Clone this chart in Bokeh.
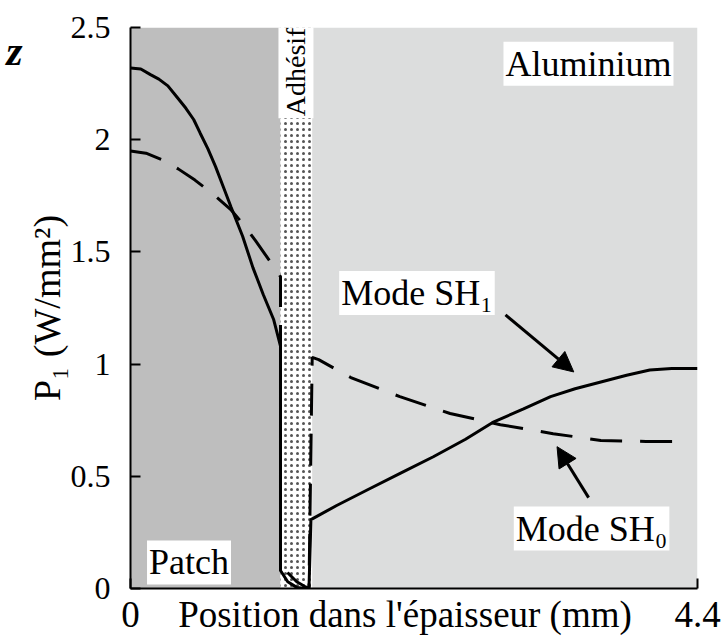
from bokeh.plotting import figure
from bokeh.models import (Range1d, FixedTicker, Label, Arrow, NormalHead, ColumnDataSource,
                          LinearAxis)
from bokeh.embed import file_html
from bokeh.resources import INLINE

# Layers of the structure (mm)
layer_names = ["Patch", "Adhésif", "Aluminium"]
layer_left = [0.0, 1.164, 1.41]
layer_right = [1.164, 1.41, 4.4]
layer_colors = ["#bebebe", "#ffffff", "#dcdddd"]

# Mode SH1 (solid)
sh1_x = [0.0, 0.08, 0.155, 0.22, 0.29, 0.36, 0.43, 0.49, 0.54, 0.6, 0.66, 0.72, 0.78,
         0.87, 0.95, 1.03, 1.11, 1.164,
         1.164, 1.22, 1.29, 1.36, 1.385, 1.40, 1.6, 1.84, 2.1, 2.35, 2.6, 2.82,
         3.05, 3.26, 3.45, 3.65, 3.85, 4.03, 4.2, 4.4]
sh1_y = [2.32, 2.315, 2.29, 2.27, 2.24, 2.19, 2.14, 2.09, 2.03, 1.96, 1.88, 1.79, 1.70,
         1.57, 1.43, 1.31, 1.20, 1.08,
         0.08, 0.03, 0.005, 0.0, 0.0, 0.307, 0.37, 0.44, 0.515, 0.587, 0.665, 0.743,
         0.80, 0.855, 0.89, 0.92, 0.95, 0.974, 0.98, 0.98]

# Mode SH0 (dashed)
sh0_x = [0.0, 0.12, 0.248, 0.37, 0.5, 0.635, 0.776, 0.88, 0.97, 1.086, 1.164,
         1.164, 1.22, 1.29, 1.35, 1.385, 1.41, 1.46, 1.71, 2.09, 2.48, 2.87,
         3.28, 3.65, 4.0, 4.3]
sh0_y = [1.95, 1.94, 1.91, 1.87, 1.82, 1.76, 1.69, 1.62, 1.55, 1.455, 1.39,
         0.11, 0.07, 0.03, 0.01, 0.0, 1.03, 1.02, 0.94, 0.855, 0.78, 0.73,
         0.69, 0.66, 0.655, 0.655]

y_ticks = [0, 0.5, 1, 1.5, 2, 2.5]
y_tick_labels = ["0", "0.5", "1", "1.5", "2", "2.5"]
x_ticks = [0, 4.4]
x_tick_labels = ["0", "4.4"]
x_title = "Position dans l'épaisseur (mm)"
x_title_pos = 2.13
y_title = "P₁ (W/mm²)"
corner_text = "z"
corner_pos = 2.395

FONT = "Liberation Serif"
AXFONT = "'Liberation Serif', serif"

p = figure(width=728, height=637, x_range=Range1d(0, 4.4), y_range=Range1d(0, 2.5),
           output_backend="svg", toolbar_location=None,
           min_border_left=130, min_border_right=31, min_border_top=27, min_border_bottom=48)
p.xgrid.visible = False
p.ygrid.visible = False
p.outline_line_color = None
p.background_fill_color = "white"

src = ColumnDataSource(dict(left=layer_left, right=layer_right, color=layer_colors,
                            hatch=["blank", "dot", "blank"]))
p.quad(left="left", right="right", bottom=0, top=2.5, source=src, fill_color="color",
       line_color=None, hatch_pattern="hatch", hatch_color="#555555", hatch_scale=6,
       hatch_weight=1.5)

p.line(sh1_x, sh1_y, line_color="black", line_width=3)
p.line(sh0_x, sh0_y, line_color="black", line_width=3, line_dash="32 18")

# y axis
ya = p.yaxis[0]
ya.ticker = FixedTicker(ticks=y_ticks)
ya.major_label_overrides = {t: l for t, l in zip(y_ticks, y_tick_labels)}
ya.major_tick_in = 10
ya.major_tick_out = 0
ya.minor_tick_line_color = None
ya.axis_line_width = 2
ya.axis_line_color = "black"
ya.major_tick_line_color = "black"
ya.major_tick_line_width = 2
ya.major_label_text_font = AXFONT
ya.major_label_text_color = "black"
ya.major_label_text_font_size = "32px"
ya.major_label_standoff = 20
ya.axis_label = y_title
ya.axis_label_text_font = AXFONT
ya.axis_label_text_color = "black"
ya.axis_label_text_font_style = "normal"
ya.axis_label_text_font_size = "38px"
ya.axis_label_standoff = 0

# outer left "axis" carrying the stray corner letter
ya2 = LinearAxis(ticker=FixedTicker(ticks=[corner_pos]),
                 major_label_overrides={corner_pos: corner_text},
                 axis_line_color=None, major_tick_line_color=None, minor_tick_line_color=None,
                 major_tick_in=0, major_tick_out=0, major_label_standoff=0,
                 major_label_text_font=AXFONT, major_label_text_font_size="42px",
                 major_label_text_color="black",
                 major_label_text_font_style="bold italic")
p.add_layout(ya2, "left")

# x axis: line + inward ticks only
xa = p.xaxis[0]
xa.ticker = FixedTicker(ticks=x_ticks)
xa.major_label_overrides = {t: "" for t in x_ticks}
xa.major_label_text_font_size = "0px"
xa.major_label_standoff = 0
xa.major_tick_in = 10
xa.major_tick_out = 0
xa.minor_tick_line_color = None
xa.axis_line_width = 2
xa.axis_line_color = "black"
xa.major_tick_line_color = "black"
xa.major_tick_line_width = 2

# outer x axis carrying tick labels and the title on one line
xt = x_ticks[:1] + [x_title_pos] + x_ticks[1:]
xl = x_tick_labels[:1] + [x_title] + x_tick_labels[1:]
xa2 = LinearAxis(ticker=FixedTicker(ticks=xt),
                 major_label_overrides={t: l for t, l in zip(xt, xl)},
                 axis_line_color=None, major_tick_line_color=None, minor_tick_line_color=None,
                 major_tick_in=0, major_tick_out=0, major_label_standoff=5,
                 major_label_text_font=AXFONT, major_label_text_font_size="37px",
                 major_label_text_color="black")
p.add_layout(xa2, "below")

def lab(text, x, y, size, angle=0, bg="white", align="center", baseline="middle", style="normal"):
    l = Label(x=x, y=y, text=text, text_font=FONT, text_font_size=size, angle=angle,
              text_align=align, text_baseline=baseline, text_font_style=style,
              background_fill_color=bg, text_color="black")
    try:
        l.padding = 2
    except Exception:
        pass
    p.add_layout(l)

lab("Aluminium", 3.554, 2.338, "36px")
lab("Patch", 0.454, 0.116, "36px")
lab("Adhésif", 1.284, 2.302, "28px", angle=1.5708)
lab("Mode SH₁", 2.223, 1.317, "36px")
lab("Mode SH₀", 3.578, 0.267, "36px")

for xs, ys, xe, ye in [(2.91, 1.219, 3.44, 0.965), (3.555, 0.405, 3.31, 0.632)]:
    p.add_layout(Arrow(end=NormalHead(size=20, fill_color="black", line_color="black"),
                       x_start=xs, y_start=ys, x_end=xe, y_end=ye,
                       line_color="black", line_width=3))

open("out.html", "w").write(file_html(p, INLINE))
